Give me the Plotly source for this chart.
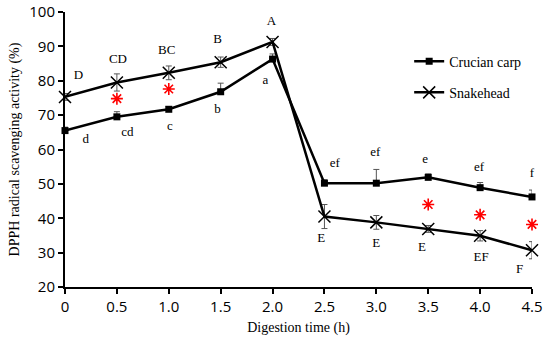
import plotly.graph_objects as go

time_h = [0, 0.5, 1.0, 1.5, 2.0, 2.5, 3.0, 3.5, 4.0, 4.5]
tick_labels = ["0", "0.5", "1.0", "1.5", "2.0", "2.5", "3.0", "3.5", "4.0", "4.5"]

crucian = [65.5, 69.5, 71.7, 76.8, 86.3, 50.2, 50.2, 51.9, 48.9, 46.2]
crucian_err = [1.0, 1.5, 0.8, 2.5, 1.5, 1.0, 4.0, 1.0, 1.5, 2.0]
snakehead = [75.3, 79.5, 82.3, 85.4, 91.3, 40.5, 38.8, 36.9, 34.9, 30.7]
snakehead_err = [1.0, 2.5, 2.0, 1.5, 1.0, 3.5, 2.0, 1.0, 1.5, 2.5]

upper_letters = ["D", "CD", "BC", "B", "A", "E", "E", "E", "EF", "F"]
upper_x = [0.13, 0.51, 0.98, 1.47, 1.99, 2.47, 3.0, 3.44, 4.01, 4.38]
upper_y = [81.5, 86.2, 88.6, 92.0, 97.3, 33.9, 32.7, 31.4, 28.5, 25.0]

lower_letters = ["d", "cd", "c", "b", "a", "ef", "ef", "e", "ef", "f"]
lower_x = [0.2, 0.6, 1.01, 1.47, 1.93, 2.6, 2.99, 3.47, 3.99, 4.5]
lower_y = [62.9, 65.0, 66.7, 71.6, 80.0, 56.0, 59.0, 57.0, 54.6, 53.0]

star_x = [0.5, 1.0, 3.5, 4.0, 4.5]
star_y = [74.8, 77.6, 44.0, 41.0, 38.2]

serif = "Liberation Serif"
sans = "Open Sans"

fig = go.Figure()

fig.add_trace(go.Scatter(
    x=time_h, y=crucian, name="Crucian carp", mode="lines+markers",
    legendgroup="g1",
    line=dict(color="black", width=2.5),
    marker=dict(symbol="square", size=7, color="black"),
    error_y=dict(type="data", array=crucian_err, arrayminus=[0]*len(crucian_err),
                 color="#555555", thickness=1, width=3),
    cliponaxis=False,
))
fig.add_trace(go.Scatter(
    x=time_h, y=snakehead, name="Snakehead", mode="lines+markers",
    legendgroup="g2",
    line=dict(color="black", width=2.5),
    marker=dict(symbol="x-thin-open", size=12, color="black",
                line=dict(color="black", width=1.5)),
    error_y=dict(type="data", array=snakehead_err, color="#555555",
                 thickness=1, width=3),
    cliponaxis=False,
))

fig.add_trace(go.Scatter(
    x=upper_x, y=upper_y, mode="text", text=upper_letters, showlegend=False,
    textfont=dict(family=serif, size=13, color="black"), cliponaxis=False,
    hoverinfo="skip",
))
fig.add_trace(go.Scatter(
    x=lower_x, y=lower_y, mode="text", text=lower_letters, showlegend=False,
    textfont=dict(family=serif, size=13, color="black"), cliponaxis=False,
    hoverinfo="skip",
))
fig.add_trace(go.Scatter(
    x=star_x, y=star_y, mode="markers", showlegend=False,
    marker=dict(symbol="asterisk-open", size=10, color="red",
                line=dict(color="red", width=1.6)),
    cliponaxis=False, hoverinfo="skip",
))

fig.update_layout(
    width=550, height=345,
    margin=dict(l=65, r=18, t=12, b=58, autoexpand=False),
    plot_bgcolor="white", paper_bgcolor="white",
    showlegend=True,
    legend=dict(x=0.737, y=0.878, xanchor="left", yanchor="top",
                font=dict(family=serif, size=14, color="black"),
                bgcolor="rgba(0,0,0,0)", tracegroupgap=10,
                itemwidth=30),
    xaxis=dict(
        range=[0, 4.5], tickvals=time_h, ticktext=tick_labels,
        automargin=False, ticklabeloverflow="allow",
        showline=True, linecolor="black", linewidth=2,
        ticks="outside", tickcolor="black", ticklen=5, tickwidth=2,
        showgrid=False, zeroline=False,
        tickfont=dict(family=sans, size=15, color="black"),
        title=dict(text="Digestion time (h)", font=dict(family=serif, size=14, color="black"),
                   standoff=7),
    ),
    yaxis=dict(
        range=[20, 100], tickvals=[20, 30, 40, 50, 60, 70, 80, 90, 100],
        automargin=False, ticklabeloverflow="allow",
        showline=True, linecolor="black", linewidth=2,
        ticks="outside", tickcolor="black", ticklen=5, tickwidth=2,
        showgrid=False, zeroline=False,
        tickfont=dict(family=sans, size=15, color="black"),
        title=dict(text="DPPH radical scavenging activity (%)",
                   font=dict(family=serif, size=14, color="black"), standoff=6),
    ),
)

fig.write_html("out.html", config={"displayModeBar": False},
               post_script="document.body.style.margin='0';")
